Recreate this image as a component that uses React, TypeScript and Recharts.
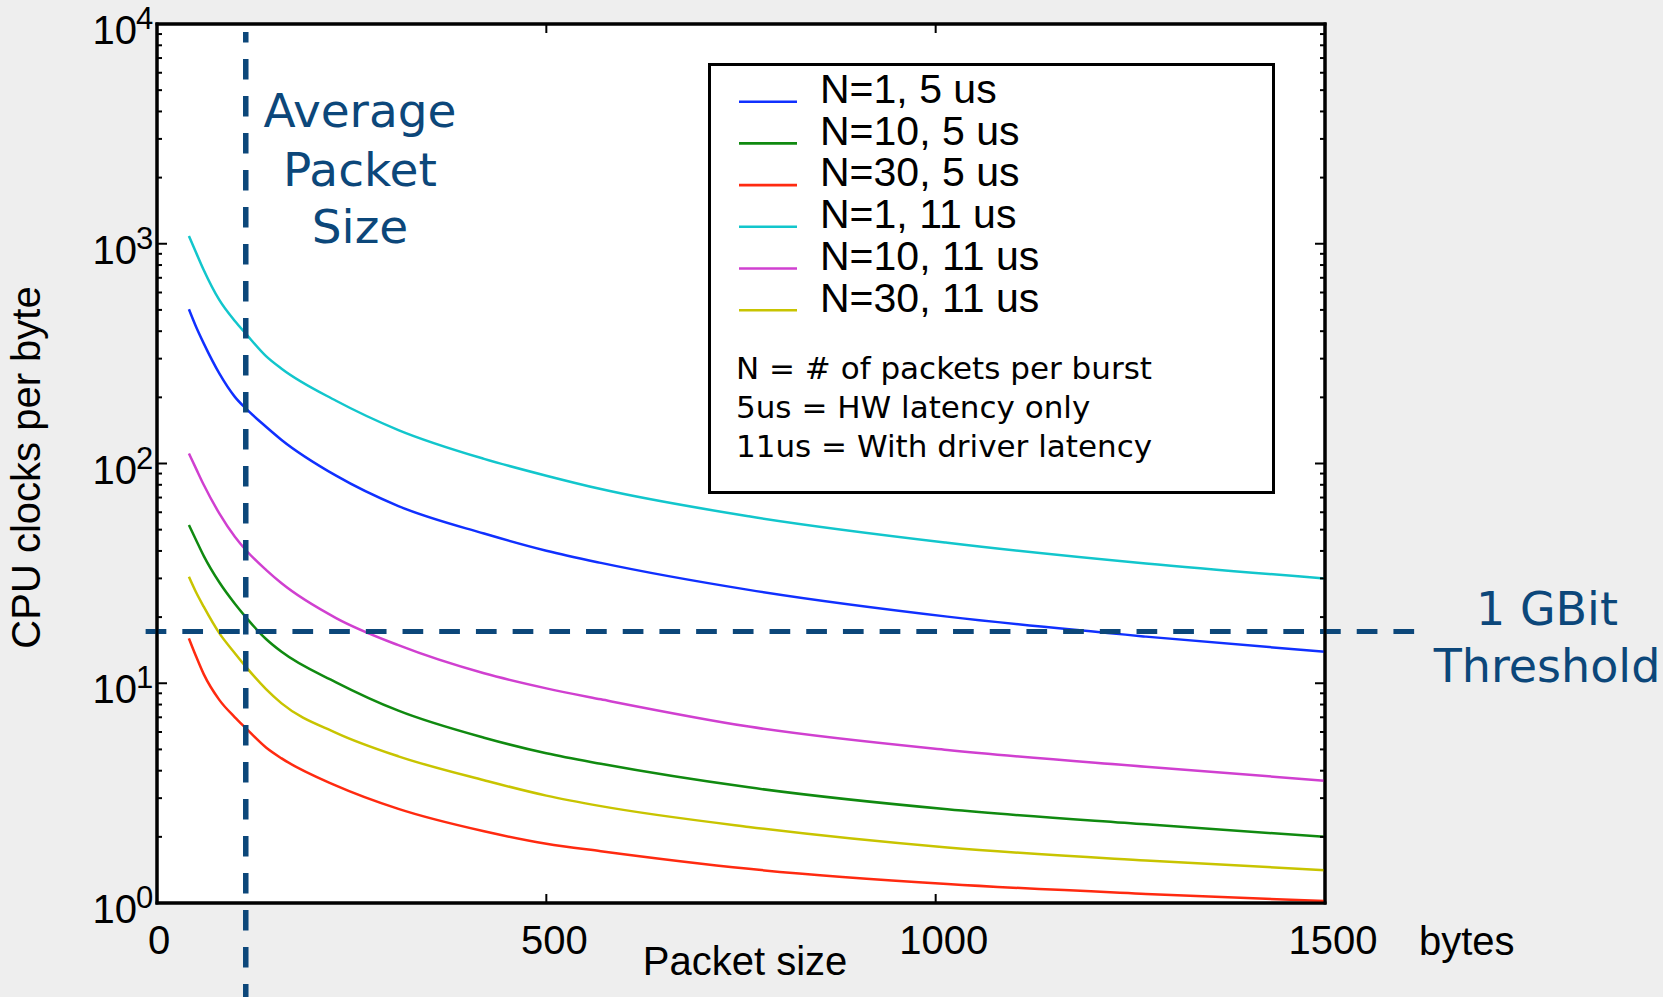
import React from "react";
import { LineChart, Line, XAxis, YAxis, CartesianGrid, ReferenceLine, ReferenceArea, Legend } from "recharts";

// packet size in bytes (x) and CPU clocks per byte for each configuration
const packetSizes = [41, 50, 60, 80, 100, 114, 140, 160, 230, 310, 420, 500, 570, 760, 1015, 1270, 1500];
const n1At5us = [503, 420, 352, 257, 201, 178, 147, 128, 88, 64, 48, 40.1, 35.3, 26.6, 20.1, 16.3, 13.9];
const n10At5us = [52.5, 45, 38.0, 28.8, 23.0, 20.0, 15.9, 13.9, 10.1, 7.5, 5.65, 4.8, 4.3, 3.36, 2.67, 2.28, 2.0];
const n30At5us = [16.0, 13.3, 11.0, 8.4, 7.0, 6.25, 5.1, 4.55, 3.42, 2.68, 2.12, 1.86, 1.72, 1.43, 1.22, 1.1, 1.02];
const n1At11us = [1084, 915, 760, 555, 445, 390, 308, 270, 193, 142, 105, 88, 76.5, 57.5, 43.6, 35.1, 30.0];
const n10At11us = [111, 95, 80, 59.3, 46.4, 40.4, 32.8, 28.5, 19.8, 14.9, 11.1, 9.48, 8.45, 6.35, 4.97, 4.17, 3.6];
const n30At11us = [30.5, 26, 22.3, 16.9, 13.7, 11.9, 9.4, 8.1, 5.95, 4.65, 3.62, 3.08, 2.76, 2.22, 1.79, 1.56, 1.41];

const seriesNames = ["N=1, 5 us", "N=10, 5 us", "N=30, 5 us", "N=1, 11 us", "N=10, 11 us", "N=30, 11 us"];
const seriesColors = ["#1030ff", "#108a10", "#ff2a10", "#12c6cc", "#d040d0", "#c8c400"];
const seriesValues = [n1At5us, n10At5us, n30At5us, n1At11us, n10At11us, n30At11us];

const xTicks = [0, 500, 1000, 1500];
const yMajorTicks = [1, 10, 100, 1000, 10000];
const yMinorTicks = [
  2, 3, 4, 5, 6, 7, 8, 9, 20, 30, 40, 50, 60, 70, 80, 90,
  200, 300, 400, 500, 600, 700, 800, 900, 2000, 3000, 4000, 5000, 6000, 7000, 8000, 9000,
];
const yTicks = [...yMajorTicks, ...yMinorTicks].sort((a, b) => a - b);

const notes = ["N = # of packets per burst", "5us = HW latency only", "11us = With driver latency"];
const averagePacketSize = 114;
const gbitThreshold = 17.2;

const rows = packetSizes.map((size, i) => {
  const row: Record<string, number> = { size };
  seriesValues.forEach((vals, s) => {
    row["s" + s] = vals[i];
  });
  return row;
});

const ARIAL = "'Liberation Sans', Arial, sans-serif";
const VERDANA = "'DejaVu Sans', Verdana, sans-serif";
const ANNOT = "#0c477a";

const isMajor = (v: number) => {
  const e = Math.log10(v);
  return Math.abs(e - Math.round(e)) < 1e-6;
};

const LeftTick = (props: any) => {
  const { x, y, payload } = props;
  const v = payload.value;
  const major = isMajor(v);
  return (
    <g>
      <line x1={x} x2={x + (major ? 10 : 5)} y1={y} y2={y} stroke="#000" strokeWidth={2} />
      {major && (
        <>
          <text x={x - 20} y={y + 20} textAnchor="end" fontSize={40} fontFamily={ARIAL} fill="#000">
            10
          </text>
          <text x={x - 21} y={y + 5} fontSize={31} fontFamily={ARIAL} fill="#000">
            {Math.round(Math.log10(v))}
          </text>
        </>
      )}
    </g>
  );
};

const RightTick = (props: any) => {
  const { x, y, payload } = props;
  const major = isMajor(payload.value);
  return <line x1={x} x2={x - (major ? 10 : 5)} y1={y} y2={y} stroke="#000" strokeWidth={2} />;
};

const BottomTick = (props: any) => {
  const { x, y, payload } = props;
  const v = payload.value;
  const inner = v !== 0 && v !== 1500;
  return (
    <g>
      {inner && <line x1={x} x2={x} y1={y} y2={y - 9} stroke="#000" strokeWidth={2} />}
      <text x={x + (v === 0 ? 2 : 8)} y={y + 51} textAnchor="middle" fontSize={40} fontFamily={ARIAL} fill="#000">
        {v}
      </text>
    </g>
  );
};

const TopTick = (props: any) => {
  const { x, y, payload } = props;
  const v = payload.value;
  if (v === 0 || v === 1500) return <g />;
  return <line x1={x} x2={x} y1={y} y2={y + 9} stroke="#000" strokeWidth={2} />;
};

const LegendBox = (props: any) => {
  const items = [...(props.payload || [])].sort(
    (a: any, b: any) => seriesNames.indexOf(a.value) - seriesNames.indexOf(b.value)
  );
  return (
    <svg width={567} height={431} style={{ display: "block" }}>
      <rect x={1.5} y={1.5} width={564} height={428} fill="#fff" stroke="#000" strokeWidth={3} />
      {items.map((item: any, i: number) => (
        <g key={item.value}>
          <line x1={31} x2={89} y1={38.7 + i * 41.7} y2={38.7 + i * 41.7} stroke={item.color} strokeWidth={2.6} />
          <text x={112} y={40 + i * 41.7} fontSize={41} fontFamily={ARIAL} fill="#000">
            {item.value}
          </text>
        </g>
      ))}
      {notes.map((t, i) => (
        <text key={t} x={28} y={316 + i * 39} fontSize={31} fontFamily={VERDANA} fill="#000">
          {t}
        </text>
      ))}
    </svg>
  );
};

const frame = { stroke: "#000", strokeWidth: 3, strokeLinecap: "square" as const };

export default function App() {
  return (
    <div
      style={{
        position: "absolute",
        left: 0,
        top: 0,
        width: 1663,
        height: 997,
        background: "#eeeeee",
        overflow: "hidden",
      }}
    >
      <LineChart width={1663} height={997} data={rows} margin={{ top: 23, right: 337, bottom: 0, left: 0 }}>
        <CartesianGrid fill="#ffffff" stroke="none" horizontal={false} vertical={false} />
        <ReferenceArea x1={0} x2={1500} y1={1} y2={10000} fill="none" stroke="#000" strokeWidth={3} />
        <XAxis
          dataKey="size"
          type="number"
          domain={[0, 1500]}
          ticks={xTicks}
          interval={0}
          allowDataOverflow
          height={94}
          tickSize={0}
          tickMargin={0}
          axisLine={frame}
          tick={<BottomTick />}
          label={(p: any) => {
            const vb = p.viewBox;
            return (
              <g>
                <text x={vb.x + vb.width / 2 + 4} y={vb.y + 72} textAnchor="middle" fontSize={40} fontFamily={ARIAL}>
                  Packet size
                </text>
                <text x={vb.x + vb.width + 94} y={vb.y + 52} fontSize={40} fontFamily={ARIAL}>
                  bytes
                </text>
              </g>
            );
          }}
        />
        <XAxis
          xAxisId="top"
          orientation="top"
          dataKey="size"
          type="number"
          domain={[0, 1500]}
          ticks={xTicks}
          interval={0}
          allowDataOverflow
          height={1}
          tickSize={0}
          tickMargin={0}
          axisLine={frame}
          tick={<TopTick />}
        />
        <YAxis
          type="number"
          scale="log"
          domain={[1, 10000]}
          ticks={yTicks}
          interval={0}
          allowDataOverflow
          width={157}
          tickSize={0}
          tickMargin={0}
          axisLine={frame}
          tick={<LeftTick />}
          label={(p: any) => {
            const vb = p.viewBox;
            const cy = vb.y + vb.height / 2 + 4;
            return (
              <text
                x={40}
                y={cy}
                transform={`rotate(-90 40 ${cy})`}
                textAnchor="middle"
                fontSize={40}
                fontFamily={ARIAL}
              >
                CPU clocks per byte
              </text>
            );
          }}
        />
        <YAxis
          yAxisId="right"
          orientation="right"
          type="number"
          scale="log"
          domain={[1, 10000]}
          ticks={yTicks}
          interval={0}
          allowDataOverflow
          width={1}
          tickSize={0}
          tickMargin={0}
          axisLine={frame}
          tick={<RightTick />}
        />
        {seriesNames.map((name, s) => (
          <Line
            key={name}
            name={name}
            dataKey={"s" + s}
            type="monotone"
            stroke={seriesColors[s]}
            strokeWidth={2.5}
            dot={false}
            isAnimationActive={false}
          />
        ))}
        <ReferenceLine
          segment={[
            { x: averagePacketSize, y: 9196 },
            { x: averagePacketSize, y: 0.3735 },
          ]}
          ifOverflow="visible"
          stroke={ANNOT}
          strokeWidth={5.5}
          strokeDasharray="20.5 16.5"
          strokeDashoffset={10}
        />
        <ReferenceLine
          segment={[
            { x: -14.6, y: gbitThreshold },
            { x: 1617, y: gbitThreshold },
          ]}
          ifOverflow="visible"
          stroke={ANNOT}
          strokeWidth={5}
          strokeDasharray="20.7 16"
        />
        <Legend
          layout="vertical"
          verticalAlign="middle"
          align="center"
          wrapperStyle={{ left: 708, top: 63, width: 567, height: 431 }}
          content={<LegendBox />}
        />
      </LineChart>
      <svg
        width={1663}
        height={997}
        style={{ position: "absolute", left: 0, top: 0, pointerEvents: "none" }}
      >
        <g fill={ANNOT} fontFamily={VERDANA} textAnchor="middle">
          <text x={360} y={127} fontSize={47}>Average</text>
          <text x={360} y={185.5} fontSize={47}>Packet</text>
          <text x={360} y={242.5} fontSize={47}>Size</text>
          <text x={1547} y={625} fontSize={46}>1 GBit</text>
          <text x={1547} y={681.5} fontSize={46}>Threshold</text>
        </g>
      </svg>
    </div>
  );
}
